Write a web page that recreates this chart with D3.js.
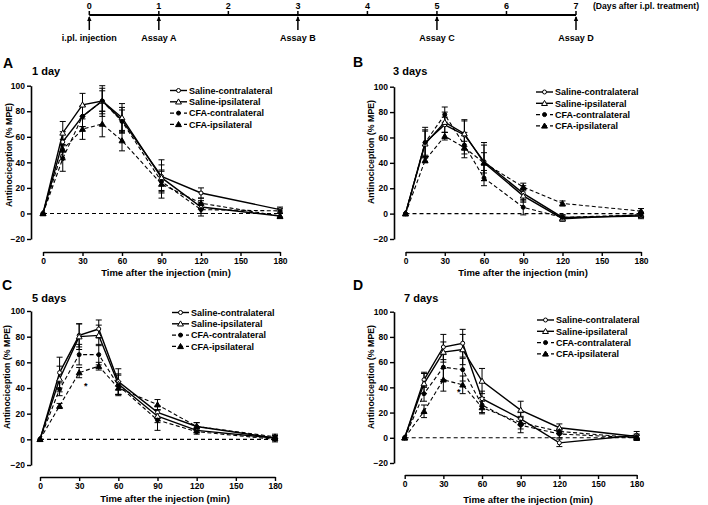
<!DOCTYPE html>
<html><head><meta charset="utf-8">
<script src="https://cdn.jsdelivr.net/npm/d3@7"></script>
<style>
html,body{margin:0;padding:0;background:#fff;}
svg{display:block;font-family:"Liberation Sans",Arial,sans-serif;font-weight:bold;}
</style></head>
<body>
<svg id="chart" width="708" height="505"></svg>
<script>
// ---------- DATA ----------
const times = [0, 15, 30, 45, 60, 90, 120, 180];
const xTicks = [0, 30, 60, 90, 120, 150, 180];
const yTicks = [-20, 0, 20, 40, 60, 80, 100];
const seriesNames = ["Saline-contralateral", "Saline-ipsilateral", "CFA-contralateral", "CFA-ipsilateral"];
const panelLetters = ["A", "B", "C", "D"];
const panelTitles = ["1 day", "3 days", "5 days", "7 days"];

// Panel A (1 day)
const a_salContra = [0, 56, 76, 88, 73, 29, 16, 3];
const a_salIpsi   = [0, 63, 85, 88, 75, 28, 5, -2];
const a_cfaContra = [0, 43, 76, 88, 72, 25, 3, 2];
const a_cfaIpsi   = [0, 50, 66, 70, 57, 23, 8, -2];
const a_salContraErr = [0, 8, 8, 10, 10, 13, 4, 2];
const a_salIpsiErr   = [0, 9, 9, 8, 11, 10, 5, 2];
const a_cfaContraErr = [0, 10, 8, 12, 9, 8, 5, 2];
const a_cfaIpsiErr   = [0, 8, 8, 10, 8, 11, 4, 2];

// Panel B (3 days)
const b_salContra = [0, 56, 70, 62, 41, 16, -3, -2];
const b_salIpsi   = [0, 55, 72, 63, 40, 14, -4, -1];
const b_cfaContra = [0, 56, 78, 54, 28, 5, -3, -1];
const b_cfaIpsi   = [0, 42, 61, 52, 40, 21, 8, 2];
const b_salContraErr = [0, 12, 6, 12, 15, 6, 2, 2];
const b_salIpsiErr   = [0, 10, 8, 10, 14, 5, 2, 2];
const b_cfaContraErr = [0, 10, 6, 10, 6, 6, 2, 2];
const b_cfaIpsiErr   = [0, 2, 3, 5, 8, 3, 2, 2];

// Panel C (5 days)
const c_salContra = [0, 52, 81, 86, 45, 21, 10, 1];
const c_salIpsi   = [0, 47, 80, 81, 43, 18, 7, 1];
const c_cfaContra = [0, 39, 66, 66, 42, 15, 6, 0];
const c_cfaIpsi   = [0, 26, 52, 57, 40, 27, 10, 2];
const c_salContraErr = [0, 12, 9, 7, 10, 5, 3, 2];
const c_salIpsiErr   = [0, 10, 10, 8, 8, 5, 2, 2];
const c_cfaContraErr = [0, 5, 8, 8, 8, 8, 2, 2];
const c_cfaIpsiErr   = [0, 2, 4, 3, 5, 4, 3, 2];

// Panel D (7 days)
const d_salContra = [0, 46, 72, 75, 31, 15, -4, 2];
const d_salIpsi   = [0, 43, 68, 70, 45, 22, 8, 1];
const d_cfaContra = [0, 35, 56, 54, 26, 10, 3, 0];
const d_cfaIpsi   = [0, 21, 46, 42, 24, 12, 5, 0];
const d_salContraErr = [0, 6, 10, 11, 6, 5, 3, 3];
const d_salIpsiErr   = [0, 8, 8, 12, 10, 7, 3, 2];
const d_cfaContraErr = [0, 6, 10, 9, 6, 6, 3, 2];
const d_cfaIpsiErr   = [0, 5, 9, 7, 5, 5, 2, 2];

// significance marks: [panel index, time, value]
const sigMarks = [[2, 35, 43], [3, 42, 38]];

// Timeline
const days = [0, 1, 2, 3, 4, 5, 6, 7];
const eventDays = [0, 1, 3, 5, 7];
const eventLabels = ["i.pl. injection", "Assay A", "Assay B", "Assay C", "Assay D"];
const timelineNote = "(Days after i.pl. treatment)";

// ---------- BUILD ----------
const panelValues = [
  [a_salContra, a_salIpsi, a_cfaContra, a_cfaIpsi],
  [b_salContra, b_salIpsi, b_cfaContra, b_cfaIpsi],
  [c_salContra, c_salIpsi, c_cfaContra, c_cfaIpsi],
  [d_salContra, d_salIpsi, d_cfaContra, d_cfaIpsi]
];
const panelErrors = [
  [a_salContraErr, a_salIpsiErr, a_cfaContraErr, a_cfaIpsiErr],
  [b_salContraErr, b_salIpsiErr, b_cfaContraErr, b_cfaIpsiErr],
  [c_salContraErr, c_salIpsiErr, c_cfaContraErr, c_cfaIpsiErr],
  [d_salContraErr, d_salIpsiErr, d_cfaContraErr, d_cfaIpsiErr]
];

// layout (pixel geometry)
const layouts = [
  {yAxisX: 31,  x0: 43,  x1: 280, yTop: 85.7, yBot: 239, xAxisY: 252,
   letter: [3, 68], title: [32, 75], legend: [170, 90.5], xTitle: [166, 276], yTitle: [9, 155]},
  {yAxisX: 394, x0: 405.5, x1: 641, yTop: 86.7, yBot: 239, xAxisY: 252,
   letter: [353, 67], title: [393, 75], legend: [536, 92], xTitle: [523, 276], yTitle: [371, 152]},
  {yAxisX: 31,  x0: 40,  x1: 275, yTop: 311, yBot: 465, xAxisY: 477,
   letter: [2, 290], title: [32, 302], legend: [172, 312.5], xTitle: [165, 502], yTitle: [7, 377]},
  {yAxisX: 394, x0: 404.7, x1: 636.7, yTop: 311.7, yBot: 463, xAxisY: 475,
   letter: [353, 290], title: [404, 302], legend: [537, 320], xTitle: [528, 503], yTitle: [371, 377]}
];

const svg = d3.select("#chart");
const dashed = [false, false, true, true];
const filled = [false, false, true, true];
const triangle = [false, true, false, true];

function drawMarker(g, cx, cy, i) {
  if (triangle[i]) {
    g.append("path")
      .attr("d", d3.symbol(d3.symbolTriangle).size(15)())
      .attr("transform", `translate(${cx},${cy + 0.5})`)
      .attr("fill", filled[i] ? "#000" : "#fff")
      .attr("stroke", "#000").attr("stroke-width", 1);
  } else {
    g.append("circle").attr("cx", cx).attr("cy", cy).attr("r", 2)
      .attr("fill", filled[i] ? "#000" : "#fff")
      .attr("stroke", "#000").attr("stroke-width", 1);
  }
}

layouts.forEach((L, p) => {
  const g = svg.append("g");
  const x = d3.scaleLinear().domain([0, 180]).range([L.x0, L.x1]);
  const y = d3.scaleLinear().domain([-20, 100]).range([L.yBot, L.yTop]);

  // y axis
  const ya = g.append("g").attr("transform", `translate(${L.yAxisX},0)`)
    .call(d3.axisLeft(y).tickValues(yTicks).tickSize(4).tickSizeOuter(0).tickPadding(2));
  // x axis
  const xa = g.append("g").attr("transform", `translate(0,${L.xAxisY})`)
    .call(d3.axisBottom(x).tickValues(xTicks).tickSize(4).tickSizeOuter(0).tickPadding(2));
  [ya, xa].forEach(a => {
    a.select(".domain").attr("stroke-width", 1.6);
    a.selectAll(".tick line").attr("stroke-width", 1.4);
    a.selectAll(".tick text").attr("font-size", 8.5).attr("font-weight", "bold")
      .attr("font-family", '"Liberation Sans",Arial,sans-serif').attr("fill", "#000");
  });

  // zero line
  g.append("line").attr("x1", x(0)).attr("x2", x(180)).attr("y1", y(0)).attr("y2", y(0))
    .attr("stroke", "#000").attr("stroke-width", 1.1).attr("stroke-dasharray", "4,3");

  // series
  const vals = panelValues[p], errs = panelErrors[p];
  vals.forEach((v, i) => {
    const pts = times.map((t, k) => [t, v[k], errs[i][k]]);
    const line = d3.line().x(d => x(d[0])).y(d => y(d[1]));
    g.append("path").attr("d", line(pts)).attr("fill", "none").attr("stroke", "#000")
      .attr("stroke-width", dashed[i] ? 1.1 : 1.4)
      .attr("stroke-dasharray", dashed[i] ? "4,2.5" : null);
    // error bars
    pts.forEach(d => {
      if (d[2] <= 0) return;
      const cx = x(d[0]), yt = y(d[1] + d[2]), yb = y(d[1] - d[2]);
      g.append("line").attr("x1", cx).attr("x2", cx).attr("y1", yt).attr("y2", yb)
        .attr("stroke", "#000").attr("stroke-width", 1);
      [yt, yb].forEach(yy => g.append("line").attr("x1", cx - 3).attr("x2", cx + 3)
        .attr("y1", yy).attr("y2", yy).attr("stroke", "#000").attr("stroke-width", 1));
    });
  });
  vals.forEach((v, i) => {
    times.forEach((t, k) => drawMarker(g, x(t), y(v[k]), i));
  });

  // significance marks
  sigMarks.filter(s => s[0] === p).forEach(s => {
    g.append("text").attr("x", x(s[1])).attr("y", y(s[2]) + 5).attr("text-anchor", "middle")
      .attr("font-size", 9).text("*");
  });

  // legend
  seriesNames.forEach((name, i) => {
    const ly = L.legend[1] + i * 11.3;
    const lx = L.legend[0];
    g.append("line").attr("x1", lx).attr("x2", lx + 17).attr("y1", ly).attr("y2", ly)
      .attr("stroke", "#000").attr("stroke-width", dashed[i] ? 1.1 : 1.4)
      .attr("stroke-dasharray", dashed[i] ? "4,3" : null);
    drawMarker(g, lx + 8.5, ly, i);
    g.append("text").attr("x", lx + 19).attr("y", ly + 3.3).attr("font-size", 9).text(name);
  });

  // titles
  g.append("text").attr("x", L.letter[0]).attr("y", L.letter[1]).attr("font-size", 14).text(panelLetters[p]);
  g.append("text").attr("x", L.title[0]).attr("y", L.title[1]).attr("font-size", 11).text(panelTitles[p]);
  g.append("text").attr("x", L.xTitle[0]).attr("y", L.xTitle[1]).attr("text-anchor", "middle")
    .attr("font-size", 9.5).text("Time after the injection (min)");
  g.append("text").attr("transform", `translate(${L.yTitle[0] + 3},${L.yTitle[1]}) rotate(-90)`)
    .attr("text-anchor", "middle").attr("font-size", 8.8).text("Antinociception (% MPE)");
});

// ---------- TIMELINE ----------
const tx = d3.scaleLinear().domain([0, 7]).range([89.3, 576]);
const tl = svg.append("g");
const lineY = 15;
tl.append("line").attr("x1", tx(0)).attr("x2", tx(7)).attr("y1", lineY).attr("y2", lineY)
  .attr("stroke", "#000").attr("stroke-width", 2);
days.forEach(d => {
  tl.append("line").attr("x1", tx(d)).attr("x2", tx(d)).attr("y1", lineY - 4).attr("y2", lineY)
    .attr("stroke", "#000").attr("stroke-width", 1.5);
  tl.append("text").attr("x", tx(d)).attr("y", 8.5).attr("text-anchor", "middle")
    .attr("font-size", 9).text(d);
});
eventDays.forEach((d, i) => {
  tl.append("line").attr("x1", tx(d)).attr("x2", tx(d)).attr("y1", lineY + 2).attr("y2", 30)
    .attr("stroke", "#000").attr("stroke-width", 1.5);
  tl.append("path").attr("d", `M${tx(d) - 2.2},${lineY + 6} L${tx(d)},${lineY + 1} L${tx(d) + 2.2},${lineY + 6} Z`)
    .attr("fill", "#000");
  tl.append("text").attr("x", tx(d)).attr("y", 41).attr("text-anchor", "middle")
    .attr("font-size", 9).text(eventLabels[i]);
});
tl.append("text").attr("x", 593).attr("y", 8.5).attr("font-size", 8.6).text(timelineNote);
</script>
</body></html>
